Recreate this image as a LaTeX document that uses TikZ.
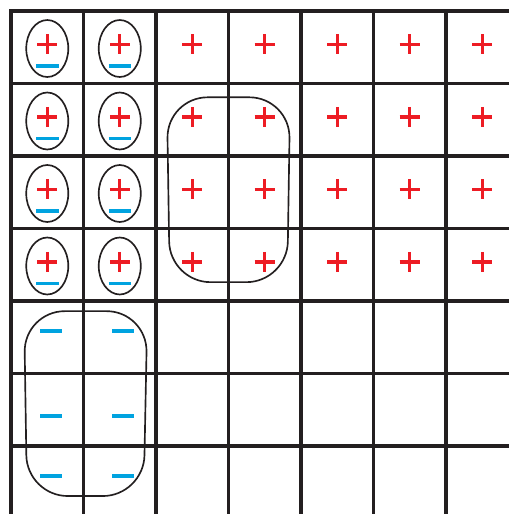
\documentclass[tikz,border=0pt]{standalone}
\usepackage{xcolor}
\usepackage{tikz}
\usetikzlibrary{shapes.geometric}

\definecolor{chargered}{HTML}{ED1C24}
\definecolor{chargeblue}{HTML}{00A3E0}
\definecolor{gridgray}{HTML}{231F20}

\begin{document}
\begin{tikzpicture}
  \tikzset{gridline/.style={line width=1.2pt, draw=gridgray},
    holemark/.style={line width=1.35pt, draw=chargered},
    electronmark/.style={line width=1.3pt, draw=chargeblue},
    trap/.style={ellipse, draw=gridgray, line width=0.65pt, inner sep=0pt,
      minimum width=0.58cm, minimum height=0.786cm},
    blob/.style={draw=gridgray, line width=0.65pt, rounded corners=16pt}}
  \useasboundingbox (-0.152,0.152) rectangle (6.869,-6.938);
  % grid
  \draw[gridline] (0,-6.95) -- (0,0) -- (6.88,0);
  \foreach \x in {1,...,6} \draw[gridline] (\x,0) -- (\x,-6.95);
  \foreach \y in {1,...,6} \draw[gridline] (0,-\y) -- (6.88,-\y);
  % positive charges
  \foreach \i in {0,...,6}
    \foreach \j in {0,...,3}
      \draw[holemark] (\i+0.362,-\j-0.46) -- ++(0.276,0)
                 (\i+0.5,-\j-0.322) -- ++(0,-0.276);
  % trapped electrons
  \foreach \i in {0,1}
    \foreach \j in {0,...,3} {
      \node[trap] (t-\i-\j) at (\i+0.5,-\j-0.517) {};
      \draw[electronmark] (\i+0.345,-\j-0.759) -- ++(0.31,0);
    }
  % free electrons
  \foreach \y in {4.414,5.586,6.414} {
    \draw[electronmark] (0.4,-\y) -- ++(0.304,0);
    \draw[electronmark] (1.393,-\y) -- ++(0.304,0);
  }
  % groups
  \draw[blob] (2.15,-1.19) -- (3.85,-1.19) -- (3.81,-3.74) -- (2.19,-3.74) -- cycle;
  \draw[blob] (0.18,-4.14) -- (1.88,-4.14) -- (1.83,-6.69) -- (0.22,-6.69) -- cycle;
\end{tikzpicture}
\end{document}
